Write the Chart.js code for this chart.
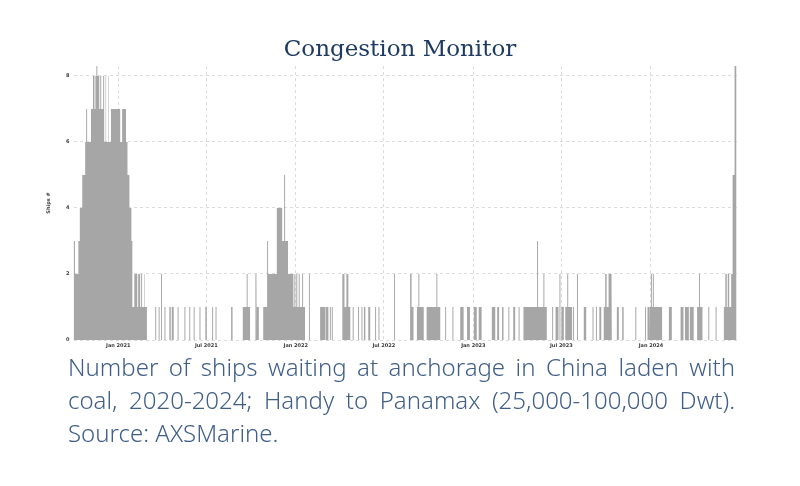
<!DOCTYPE html>
<html>
<head>
<meta charset="utf-8">
<script src="https://cdn.jsdelivr.net/npm/chart.js@4/dist/chart.umd.min.js"></script>
<style>
  html, body { margin: 0; padding: 0; background: #ffffff; }
  #wrap { position: relative; width: 800px; height: 486px; overflow: hidden; background: #ffffff; }
  #chart { position: absolute; left: 0; top: 0; }
  #title {
    position: absolute; left: 0; top: 33px; width: 800px; line-height: 30px;
    text-align: center; font-family: 'DejaVu Serif', serif; font-size: 23px; color: #1d3a61;
  }
  #caption {
    position: absolute; left: 68px; top: 350px; width: 667px;
    font-family: 'Noto Sans', sans-serif; font-weight: 300; font-size: 24px; line-height: 33px; color: #3f5e88;
  }
  #caption .j { text-align: justify; text-align-last: justify; }
</style>
</head>
<body>
<div id="wrap">
  <canvas id="chart" width="800" height="486"></canvas>
  <div id="title">Congestion Monitor</div>
  <div id="caption">
    <div class="j">Number of ships waiting at anchorage in China laden with</div>
    <div class="j">coal, 2020-2024; Handy to Panamax (25,000-100,000 Dwt).</div>
    <div>Source: AXSMarine.</div>
  </div>
</div>
<script>
// Ships waiting at anchorage: each row is [first day, day after last, ships].
// Days not covered by a row had no ships waiting.
const runs2020 = [
  ['2020-10-01', '2020-10-04', 3], ['2020-10-04', '2020-10-11', 2], ['2020-10-11', '2020-10-14', 3],
  ['2020-10-14', '2020-10-19', 4], ['2020-10-19', '2020-10-25', 5], ['2020-10-25', '2020-10-27', 6],
  ['2020-10-27', '2020-10-29', 7], ['2020-10-29', '2020-11-06', 6], ['2020-11-06', '2020-11-10', 7],
  ['2020-11-10', '2020-11-13', 8], ['2020-11-13', '2020-11-15', 7], ['2020-11-15', '2020-11-17', 8],
  ['2020-11-17', '2020-11-19', 9], ['2020-11-19', '2020-11-23', 8], ['2020-11-23', '2020-11-25', 7],
  ['2020-11-25', '2020-11-27', 8], ['2020-11-27', '2020-12-01', 7], ['2020-12-01', '2020-12-03', 8],
  ['2020-12-03', '2020-12-06', 6], ['2020-12-06', '2020-12-07', 8], ['2020-12-07', '2020-12-09', 6],
  ['2020-12-09', '2020-12-10', 8], ['2020-12-10', '2020-12-12', 6], ['2020-12-12', '2020-12-13', 8],
  ['2020-12-13', '2020-12-17', 6], ['2020-12-17', '2021-01-05', 7]
];

const runs2021 = [
  ['2021-01-05', '2021-01-09', 6], ['2021-01-09', '2021-01-17', 7], ['2021-01-17', '2021-01-20', 6],
  ['2021-01-20', '2021-01-24', 5], ['2021-01-24', '2021-01-28', 4], ['2021-01-28', '2021-01-30', 3],
  ['2021-01-30', '2021-02-03', 1], ['2021-02-03', '2021-02-09', 2], ['2021-02-09', '2021-02-11', 1],
  ['2021-02-11', '2021-02-15', 2], ['2021-02-15', '2021-02-17', 1], ['2021-02-17', '2021-02-19', 2],
  ['2021-02-19', '2021-02-21', 1], ['2021-02-21', '2021-02-22', 2], ['2021-02-22', '2021-02-24', 1],
  ['2021-02-24', '2021-02-25', 2], ['2021-02-25', '2021-03-01', 1],
  ['2021-03-18', '2021-03-20', 1], ['2021-03-25', '2021-03-27', 1], ['2021-03-30', '2021-04-01', 2],
  ['2021-04-06', '2021-04-08', 1], ['2021-04-16', '2021-04-19', 1], ['2021-04-21', '2021-04-25', 1],
  ['2021-05-03', '2021-05-05', 1], ['2021-05-17', '2021-05-19', 1], ['2021-05-27', '2021-05-29', 1],
  ['2021-06-05', '2021-06-07', 1], ['2021-06-17', '2021-06-19', 1], ['2021-06-29', '2021-07-02', 1],
  ['2021-07-13', '2021-07-15', 1], ['2021-07-20', '2021-07-22', 1], ['2021-08-21', '2021-08-24', 1],
  ['2021-09-14', '2021-09-22', 1], ['2021-09-22', '2021-09-24', 2], ['2021-09-24', '2021-09-29', 1],
  ['2021-10-03', '2021-10-05', 1], ['2021-10-10', '2021-10-12', 2], ['2021-10-13', '2021-10-17', 1],
  ['2021-10-26', '2021-11-03', 1], ['2021-11-03', '2021-11-05', 3], ['2021-11-05', '2021-11-23', 2],
  ['2021-11-23', '2021-12-04', 4], ['2021-12-04', '2021-12-08', 3], ['2021-12-08', '2021-12-10', 5],
  ['2021-12-10', '2021-12-16', 3], ['2021-12-16', '2021-12-27', 2], ['2021-12-27', '2021-12-29', 1],
  ['2021-12-29', '2021-12-31', 2], ['2021-12-31', '2022-01-02', 1]
];

const runs2022 = [
  ['2022-01-02', '2022-01-04', 2], ['2022-01-04', '2022-01-07', 1], ['2022-01-07', '2022-01-09', 2],
  ['2022-01-09', '2022-01-14', 1], ['2022-01-14', '2022-01-16', 2], ['2022-01-16', '2022-01-20', 1],
  ['2022-01-28', '2022-01-30', 2], ['2022-02-20', '2022-03-02', 1], ['2022-03-03', '2022-03-09', 1],
  ['2022-03-12', '2022-03-14', 1], ['2022-03-16', '2022-03-18', 1], ['2022-04-06', '2022-04-07', 1],
  ['2022-04-07', '2022-04-11', 2], ['2022-04-11', '2022-04-15', 1], ['2022-04-15', '2022-04-19', 2],
  ['2022-04-19', '2022-04-23', 1], ['2022-04-28', '2022-04-30', 1],
  ['2022-05-09', '2022-05-11', 1], ['2022-05-16', '2022-05-18', 1], ['2022-05-21', '2022-05-24', 1],
  ['2022-05-30', '2022-06-03', 1], ['2022-06-13', '2022-06-15', 1], ['2022-06-20', '2022-06-22', 1],
  ['2022-07-22', '2022-07-24', 2], ['2022-08-24', '2022-08-27', 2], ['2022-08-27', '2022-08-31', 1],
  ['2022-09-07', '2022-09-10', 1], ['2022-09-10', '2022-09-12', 2], ['2022-09-12', '2022-09-21', 1],
  ['2022-09-27', '2022-10-17', 1], ['2022-10-17', '2022-10-19', 2], ['2022-10-19', '2022-10-25', 1],
  ['2022-11-04', '2022-11-06', 1], ['2022-11-19', '2022-11-21', 1], ['2022-12-05', '2022-12-12', 1],
  ['2022-12-19', '2022-12-25', 1]
];

const runs2023 = [
  ['2023-01-02', '2023-01-08', 1], ['2023-01-12', '2023-01-18', 1], ['2023-02-08', '2023-02-15', 1],
  ['2023-02-19', '2023-02-23', 1], ['2023-03-01', '2023-03-04', 1], ['2023-03-14', '2023-03-16', 1],
  ['2023-03-24', '2023-03-28', 1], ['2023-04-04', '2023-04-06', 1], ['2023-04-14', '2023-05-12', 1],
  ['2023-05-12', '2023-05-14', 3], ['2023-05-14', '2023-05-25', 1], ['2023-05-25', '2023-05-27', 2],
  ['2023-05-27', '2023-06-01', 1], ['2023-06-12', '2023-06-14', 1], ['2023-06-19', '2023-06-25', 1],
  ['2023-06-27', '2023-06-29', 2], ['2023-07-01', '2023-07-06', 1], ['2023-07-09', '2023-07-13', 1],
  ['2023-07-13', '2023-07-15', 2], ['2023-07-15', '2023-07-23', 1], ['2023-07-25', '2023-07-27', 1],
  ['2023-08-02', '2023-08-04', 2], ['2023-08-16', '2023-08-21', 1], ['2023-09-03', '2023-09-05', 1],
  ['2023-09-10', '2023-09-12', 1], ['2023-09-17', '2023-09-21', 1], ['2023-09-26', '2023-09-29', 1],
  ['2023-09-29', '2023-10-02', 2], ['2023-10-02', '2023-10-06', 1], ['2023-10-06', '2023-10-12', 2],
  ['2023-10-12', '2023-10-13', 1], ['2023-10-23', '2023-10-27', 1],
  ['2023-11-03', '2023-11-06', 1], ['2023-11-30', '2023-12-02', 1], ['2023-12-20', '2023-12-22', 1],
  ['2023-12-25', '2023-12-29', 1], ['2023-12-30', '2024-01-01', 1]
];

const runs2024 = [
  ['2024-01-01', '2024-01-03', 2], ['2024-01-03', '2024-01-05', 1], ['2024-01-05', '2024-01-07', 2],
  ['2024-01-07', '2024-01-24', 1], ['2024-02-07', '2024-02-13', 1],
  ['2024-03-02', '2024-03-08', 1], ['2024-03-11', '2024-03-19', 1], ['2024-03-21', '2024-03-29', 1],
  ['2024-04-05', '2024-04-09', 1], ['2024-04-09', '2024-04-11', 2], ['2024-04-11', '2024-04-16', 1],
  ['2024-04-28', '2024-04-30', 1], ['2024-05-13', '2024-05-15', 1], ['2024-05-30', '2024-06-02', 1],
  ['2024-06-02', '2024-06-05', 2], ['2024-06-05', '2024-06-07', 1], ['2024-06-07', '2024-06-10', 2],
  ['2024-06-10', '2024-06-14', 1], ['2024-06-14', '2024-06-17', 2],
  ['2024-06-17', '2024-06-21', 5], ['2024-06-21', '2024-06-25', 9]
];

// Axis settings
const xStart = '2020-10-01';
const xEnd = '2024-06-26';
const tickDates = ['2021-01-01', '2021-07-01', '2022-01-01', '2022-07-01', '2023-01-01', '2023-07-01', '2024-01-01'];
const tickLabels = ['Jan 2021', 'Jul 2021', 'Jan 2022', 'Jul 2022', 'Jan 2023', 'Jul 2023', 'Jan 2024'];
const yTicks = [0, 2, 4, 6, 8];
const yTop = 8.3;

function toTime(s) {
  const [y, m, d] = s.split('-').map(Number);
  return Date.UTC(y, m - 1, d);
}

// Turn day runs into the outline of a filled step area (zero between runs).
function buildOutline(runs) {
  const pts = [];
  let prevEnd = null;
  runs.forEach(([s, e, v]) => {
    const t0 = toTime(s), t1 = toTime(e);
    if (prevEnd === null || t0 !== prevEnd) {
      if (prevEnd !== null) pts.push({ x: prevEnd, y: 0 });
      pts.push({ x: t0, y: 0 });
    }
    pts.push({ x: t0, y: v }, { x: t1, y: v });
    prevEnd = t1;
  });
  pts.push({ x: prevEnd, y: 0 });
  return pts;
}

const outline = buildOutline([...runs2020, ...runs2021, ...runs2022, ...runs2023, ...runs2024]);
const tickTimes = tickDates.map(toTime);

const tickFont = { family: "'DejaVu Sans', sans-serif", size: 5, weight: 'bold' };
const gridColor = '#dcdcdc';

new Chart(document.getElementById('chart'), {
  type: 'line',
  data: {
    datasets: [{
      data: outline,
      fill: 'origin',
      backgroundColor: '#a6a6a6',
      borderColor: 'rgba(0,0,0,0)',
      borderWidth: 0,
      pointRadius: 0,
      tension: 0
    }]
  },
  options: {
    responsive: false,
    animation: false,
    events: [],
    layout: { padding: { left: 46, right: 63, top: 66, bottom: 126 } },
    plugins: { legend: { display: false }, tooltip: { enabled: false } },
    scales: {
      x: {
        type: 'linear',
        min: toTime(xStart),
        max: toTime(xEnd),
        afterBuildTicks: (scale) => { scale.ticks = tickTimes.map(v => ({ value: v })); },
        afterFit: (scale) => { scale.height = 20; },
        ticks: {
          autoSkip: false, maxRotation: 0, padding: 3,
          color: '#3a3a3a', font: tickFont,
          callback: (value) => tickLabels[tickTimes.indexOf(value)]
        },
        grid: { color: gridColor, lineWidth: 1, drawTicks: false },
        border: { display: false, dash: [3, 3] }
      },
      y: {
        min: 0,
        max: yTop,
        afterBuildTicks: (scale) => { scale.ticks = yTicks.map(v => ({ value: v })); },
        afterFit: (scale) => { scale.width = 27.5; },
        ticks: { padding: 4, color: '#3a3a3a', font: tickFont },
        title: {
          display: true, text: 'Ships #', color: '#3a3a3a',
          font: { family: "'DejaVu Sans', sans-serif", size: 5, weight: 'bold' },
          padding: { top: 0, bottom: 0 }
        },
        grid: { color: gridColor, lineWidth: 1, drawTicks: false },
        border: { display: false, dash: [3, 3] }
      }
    }
  }
});
</script>
</body>
</html>
